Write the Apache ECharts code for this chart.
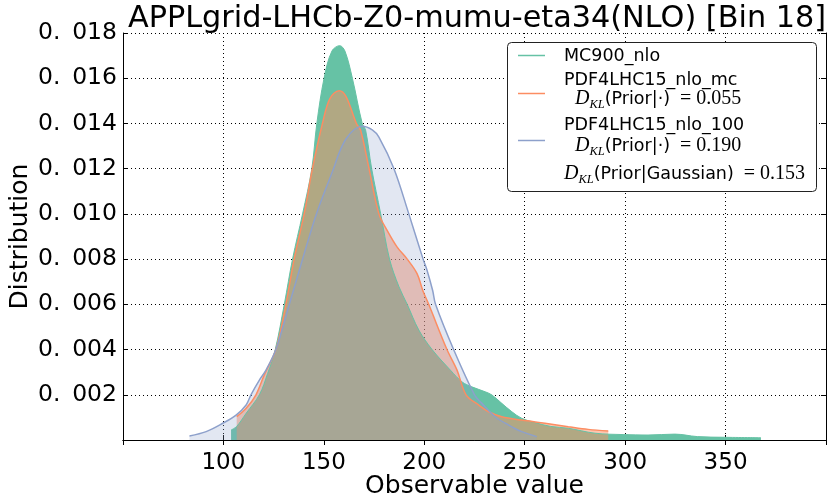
<!DOCTYPE html>
<html><head><meta charset="utf-8">
<script src="https://cdn.jsdelivr.net/npm/echarts@6/dist/echarts.min.js"></script>
<style>html,body{margin:0;padding:0;background:#fff}#c{width:827px;height:504px}</style>
</head><body><div id="c"></div>
<script>
const chartTitle = 'APPLgrid-LHCb-Z0-mumu-eta34(NLO) [Bin 18]';
const seriesNames = ['MC900_nlo', 'PDF4LHC15_nlo_mc', 'PDF4LHC15_nlo_100'];
const klValues = ['0.055', '0.190'];
const klGaussian = '0.153';
const xAxisName = 'Observable value';
const yAxisName = 'Distribution';

// [observable value, density]
const mc900 = [
  [103.8, 0.00044], [106.6, 0.0006], [111.3, 0.00118], [117.9, 0.002], [122, 0.00294],
  [125.8, 0.004], [130.3, 0.006], [134.4, 0.008], [139.4, 0.010], [144.0, 0.012],
  [146.5, 0.014], [150.1, 0.016], [154, 0.0172], [157.9, 0.01744], [160.5, 0.0172],
  [164.2, 0.016], [169.1, 0.014], [170.8, 0.0137], [173.8, 0.012], [178.3, 0.010],
  [182.7, 0.008], [187.3, 0.0068], [191.5, 0.006], [197.3, 0.00486], [203.9, 0.004],
  [213, 0.00309], [218.8, 0.00257], [223.7, 0.00235], [230.4, 0.00213], [233.7, 0.00199],
  [238.6, 0.00162], [243.6, 0.00125], [248.5, 0.00096], [255.2, 0.00077], [263, 0.0006],
  [271.7, 0.00052], [285, 0.0003], [299, 0.00024], [311.4, 0.00022], [324.7, 0.00026],
  [336, 0.00015], [349.5, 0.00012], [367.6, 0.0001]
];
const nloMc = [
  [106.6, 0.00103], [111.3, 0.0014], [116.2, 0.002], [120.3, 0.00287], [126.1, 0.004],
  [131.1, 0.006], [135.2, 0.008], [140.2, 0.010], [144.3, 0.012], [149.3, 0.014],
  [153, 0.0151], [157.6, 0.01545], [161, 0.0152], [166.2, 0.014], [168.3, 0.0137],
  [172.5, 0.012], [177.4, 0.010], [181.5, 0.00927], [186.5, 0.00853], [191.5, 0.008],
  [196.4, 0.00736], [199.3, 0.0066], [202.2, 0.006], [211.3, 0.004], [216.3, 0.00309],
  [220.8, 0.002], [227, 0.00155], [232, 0.00125], [238.6, 0.00103], [248.5, 0.00088],
  [260.1, 0.00074], [271.7, 0.00059], [281.6, 0.00047], [291.6, 0.0004]
];
const nlo100 = [
  [83.1, 0.00018], [91.4, 0.00037], [99.7, 0.00074], [106.3, 0.0011], [111.3, 0.00155],
  [113.7, 0.002], [117.9, 0.00265], [121.2, 0.00309], [126.1, 0.004], [132.8, 0.006],
  [139.4, 0.008], [146.3, 0.010], [154.8, 0.012], [157.6, 0.0127], [160.9, 0.0133],
  [165, 0.01372], [169.1, 0.01388], [174.1, 0.01372], [177.4, 0.0134], [184.9, 0.012],
  [192.3, 0.010], [199.4, 0.008], [201.4, 0.0075], [204.2, 0.0066], [205.6, 0.006],
  [214.6, 0.004], [225, 0.002], [228.7, 0.00162], [235.3, 0.00103], [242, 0.00066],
  [248.5, 0.00037], [256, 0.00015]
];

const colors = ['#66c2a5', '#fc8d62', '#8da0cb'];
const fills = ['rgba(102,194,165,1)', 'rgba(252,141,98,0.5)', 'rgba(141,160,203,0.25)'];

const chart = echarts.init(document.getElementById('c'), null, {renderer: 'canvas'});
const SANS = 'DejaVu Sans';
const SERIF = 'Liberation Serif';

function axisCommon(showLabels) {
  return {
    axisLine: {show: true, lineStyle: {color: '#000', width: 1}},
    axisTick: {show: true, inside: true, length: 5, lineStyle: {color: '#000', width: 1}},
    axisLabel: {show: showLabels},
  };
}

const klRich = {
  d: {fontFamily: SERIF, fontStyle: 'italic', fontSize: 20, lineHeight: 24, verticalAlign: 'middle', color: '#000'},
  kl: {fontFamily: SERIF, fontStyle: 'italic', fontSize: 12.5, lineHeight: 12, verticalAlign: 'bottom', color: '#000'},
  s: {fontFamily: SANS, fontSize: 17.5, lineHeight: 24, verticalAlign: 'middle', color: '#000'},
  m: {fontFamily: SERIF, fontSize: 20, lineHeight: 24, verticalAlign: 'middle', color: '#000', padding: [0, 0, 0, 5]}
};

const legendX = 507.5, legendY = 42.5;
const graphic = [
  {type: 'rect', z: 100, shape: {x: legendX, y: legendY, width: 309, height: 149, r: 4},
   style: {fill: '#fff', stroke: '#222', lineWidth: 1}},
  {type: 'line', z: 101, shape: {x1: 518, y1: 55.5, x2: 545, y2: 55.5}, style: {stroke: colors[0], lineWidth: 1.5}},
  {type: 'line', z: 101, shape: {x1: 518, y1: 93.5, x2: 545, y2: 93.5}, style: {stroke: colors[1], lineWidth: 1.5}},
  {type: 'line', z: 101, shape: {x1: 518, y1: 140.5, x2: 545, y2: 140.5}, style: {stroke: colors[2], lineWidth: 1.5}},
  {type: 'text', z: 101, x: 564, y: 56, style: {text: seriesNames[0], font: '17.5px "DejaVu Sans"', fill: '#000', verticalAlign: 'middle'}},
  {type: 'text', z: 101, x: 564, y: 80, style: {text: seriesNames[1], font: '17.5px "DejaVu Sans"', fill: '#000', verticalAlign: 'middle'}},
  {type: 'text', z: 101, x: 575, y: 99, style: {text: '{d|D}{kl|KL}{s|(Prior|·)}{m| = ' + klValues[0] + '}', rich: klRich, verticalAlign: 'middle'}},
  {type: 'text', z: 101, x: 564, y: 125, style: {text: seriesNames[2], font: '17.5px "DejaVu Sans"', fill: '#000', verticalAlign: 'middle'}},
  {type: 'text', z: 101, x: 575, y: 146, style: {text: '{d|D}{kl|KL}{s|(Prior|·)}{m| = ' + klValues[1] + '}', rich: klRich, verticalAlign: 'middle'}},
  {type: 'text', z: 101, x: 564, y: 174, style: {text: '{d|D}{kl|KL}{s|(Prior|Gaussian)}{m| = ' + klGaussian + '}', rich: klRich, verticalAlign: 'middle'}}
];

function makeSeries(i, data) {
  return {
    name: seriesNames[i], type: 'line', data: data, xAxisIndex: 0, yAxisIndex: 0,
    smooth: 0.35, symbol: 'none', clip: true,
    lineStyle: {color: colors[i], width: i === 0 ? 1 : 1.5},
    itemStyle: {color: colors[i]},
    areaStyle: {color: fills[i], opacity: 1, origin: 'start'},
    emphasis: {disabled: true}, silent: true
  };
}

const option = {
  animation: false,
  backgroundColor: '#fff',
  title: {text: chartTitle, left: 472, top: -1, textAlign: 'center',
    textStyle: {fontFamily: SANS, fontSize: 30.3, fontWeight: 'normal', color: '#000'}},
  grid: {left: 123, right: 1, top: 33, bottom: 64, show: false, outerBoundsMode: 'none', containLabel: false},
  xAxis: [
    Object.assign(axisCommon(true), {
      type: 'value', min: 50, max: 400, interval: 50, position: 'bottom',
      name: xAxisName, nameLocation: 'middle', nameGap: 34, nameMoveOverlap: false,
      nameTextStyle: {fontFamily: SANS, fontSize: 25, color: '#000'},
      axisLabel: {show: true, showMinLabel: false, showMaxLabel: false, margin: 12,
        fontFamily: SANS, fontSize: 23, color: '#000'},
      splitLine: {show: true, lineStyle: {color: '#000', type: [1, 3], width: 1}}
    }),
    Object.assign(axisCommon(false), {
      type: 'value', min: 50, max: 400, interval: 50, position: 'top', splitLine: {show: false}
    })
  ],
  yAxis: [
    Object.assign(axisCommon(true), {
      type: 'value', min: 0, max: 0.018, interval: 0.002, position: 'left',
      name: yAxisName, nameLocation: 'middle', nameGap: 90, nameMoveOverlap: false,
      nameTextStyle: {fontFamily: SANS, fontSize: 25, color: '#000'},
      axisLabel: {show: true, showMinLabel: false, margin: 6, fontFamily: SANS, fontSize: 23.5, color: '#000',
        formatter: v => v.toFixed(3).replace('.', '.\u2002')},
      splitLine: {show: true, lineStyle: {color: '#000', type: [1, 3], width: 1}}
    }),
    Object.assign(axisCommon(false), {
      type: 'value', min: 0, max: 0.018, interval: 0.002, position: 'right', splitLine: {show: false}
    })
  ],
  series: [makeSeries(0, mc900), makeSeries(1, nloMc), makeSeries(2, nlo100)],
  graphic: graphic
};
chart.setOption(option);
</script></body></html>
